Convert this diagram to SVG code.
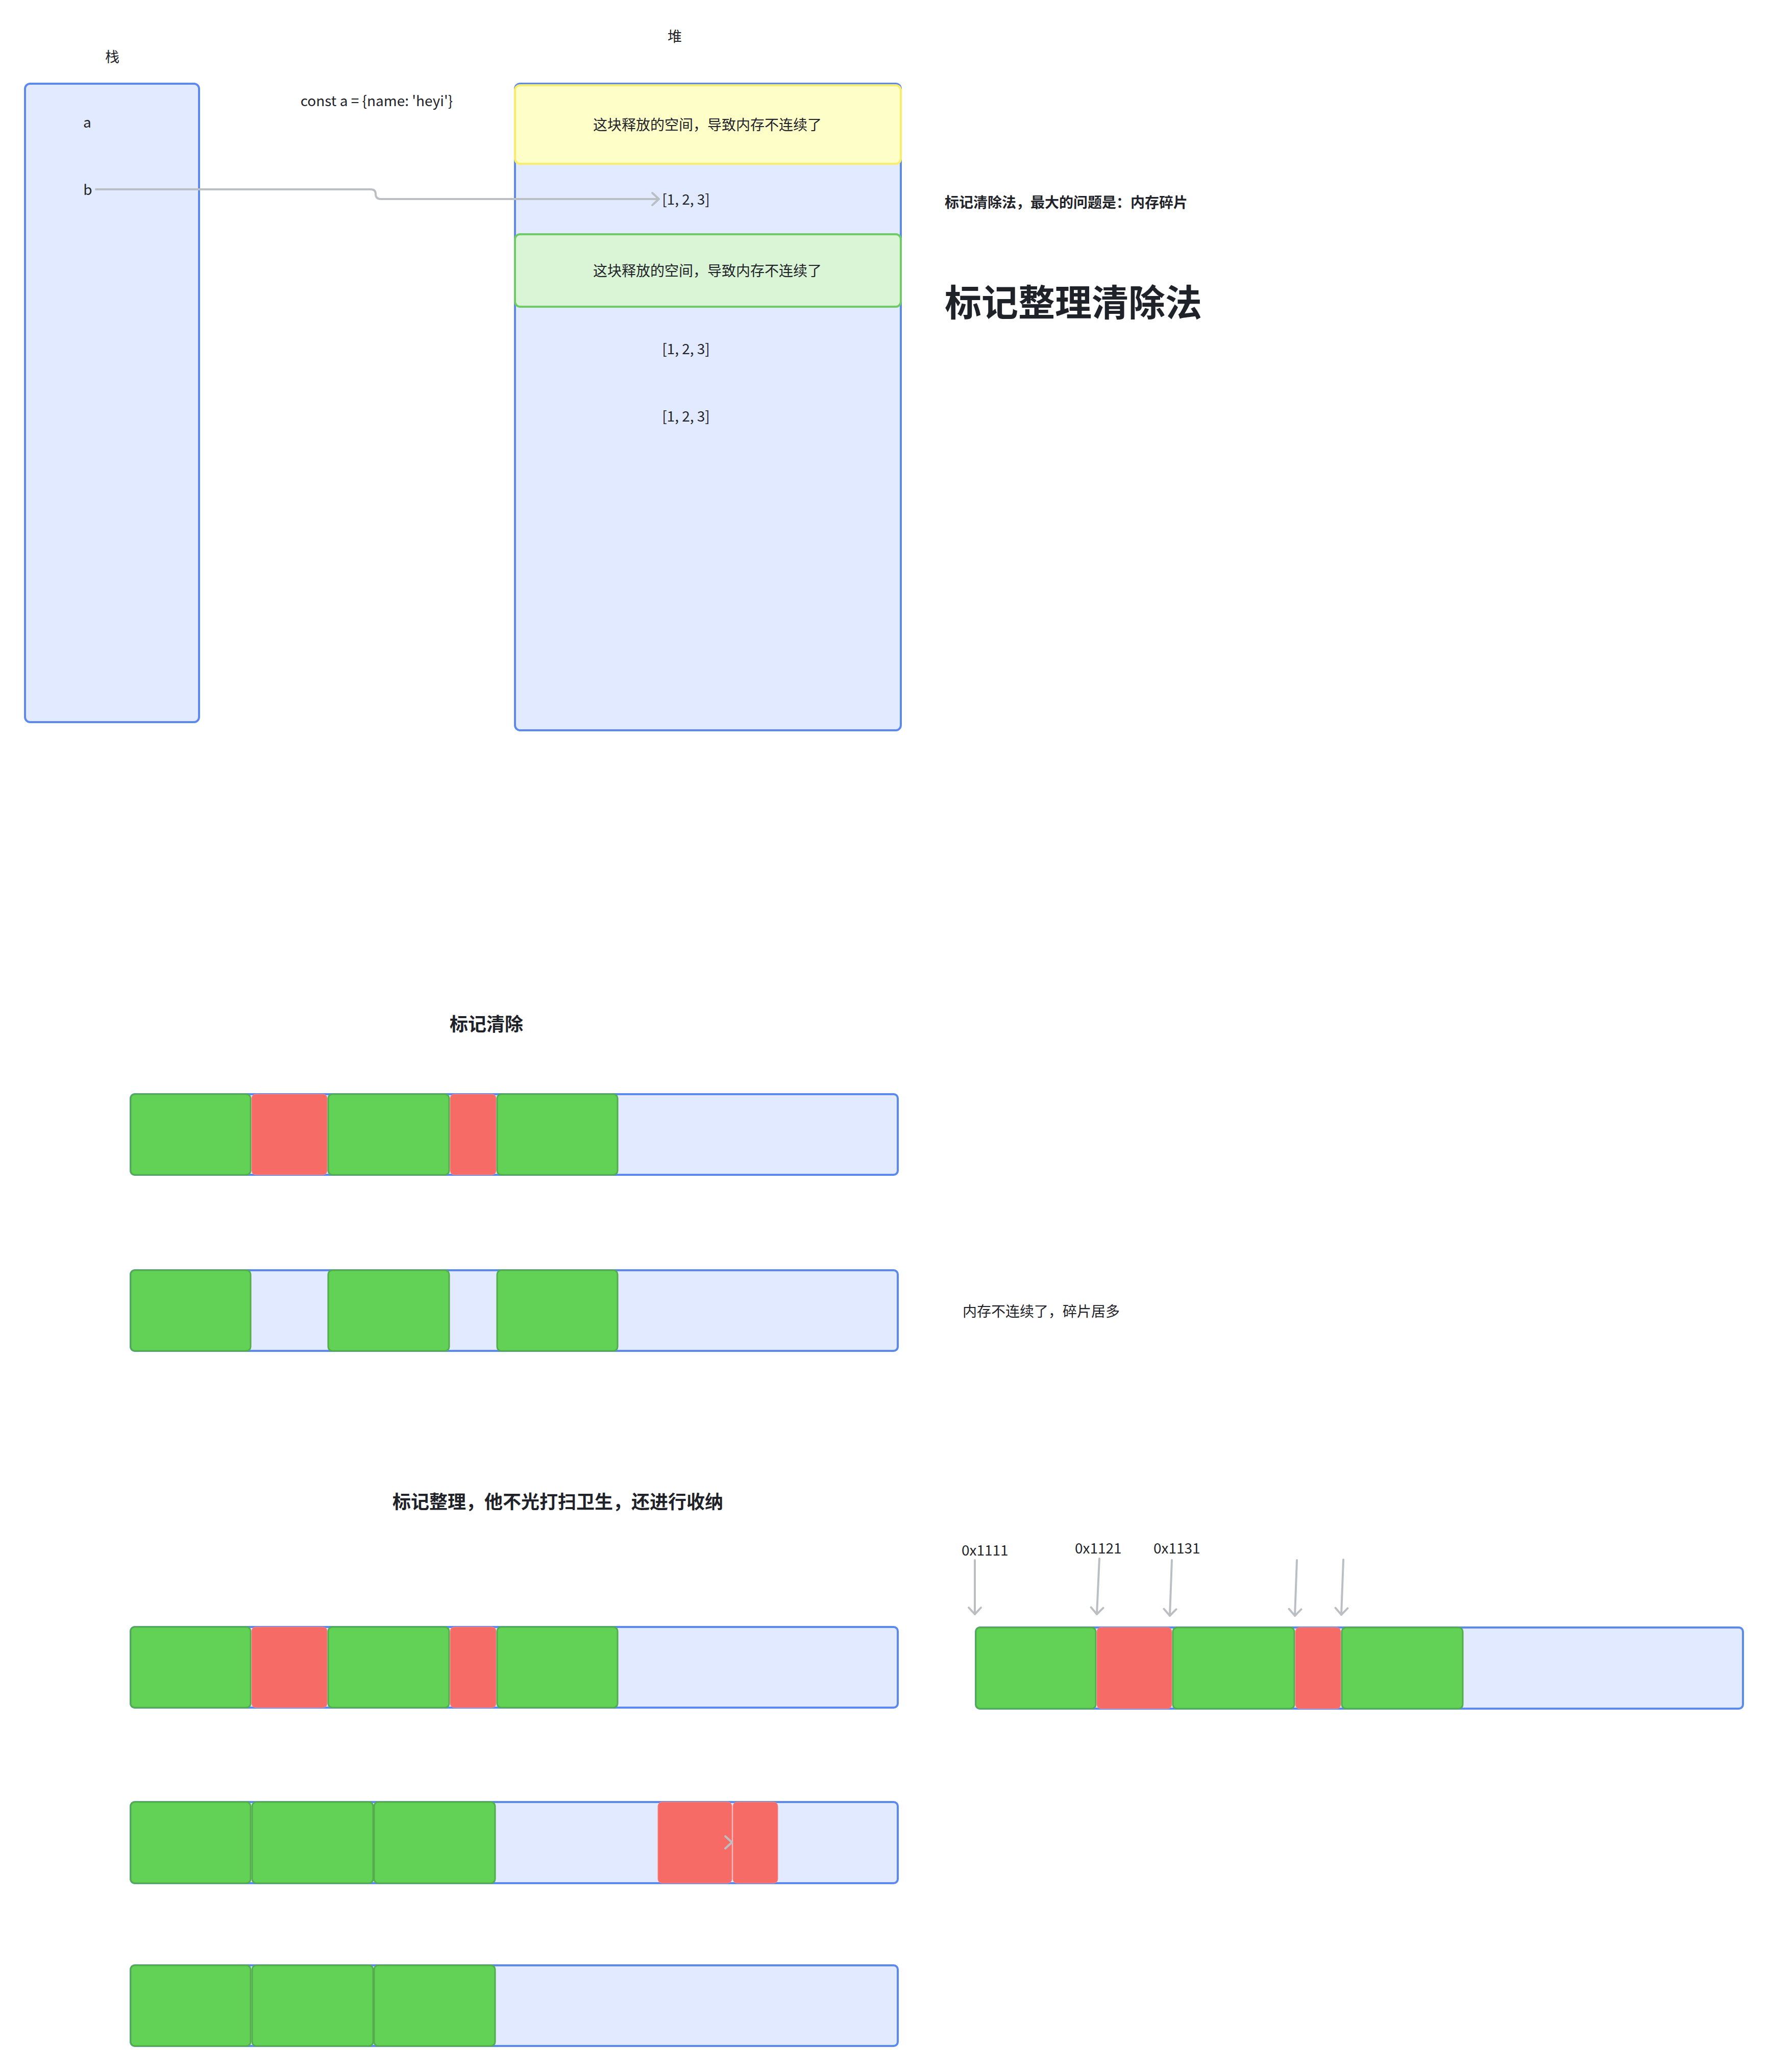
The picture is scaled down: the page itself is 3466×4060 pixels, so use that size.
<svg xmlns="http://www.w3.org/2000/svg" width="3466" height="4060" viewBox="0 0 3466 4060">
<defs>
<style>
.t{font-family:"Noto Sans CJK SC","Noto Sans",sans-serif;fill:#1f2329;font-size:28px}
.c{text-anchor:middle;dominant-baseline:central}
.s{dominant-baseline:central}
.b{font-weight:bold}
.box{fill:#e1eafe;stroke:#5b89f0;stroke-width:4}
.g{fill:#62d256;stroke:#52ad4a;stroke-width:3}
.r{fill:#f76b67;stroke:#f98a86;stroke-width:1}
.y{fill:#fefec9;stroke:#fbed6a;stroke-width:4}
.lg{fill:#d9f5d6;stroke:#6dcc63;stroke-width:4}
.ln{fill:none;stroke:#bbbfc4;stroke-width:4;stroke-linecap:round;stroke-linejoin:round}
</style>
<marker id="ah" markerUnits="userSpaceOnUse" markerWidth="40" markerHeight="40" viewBox="-20 -20 40 40" refX="0" refY="0" orient="auto">
<path d="M-13,-12 L0,0 L-13,12" fill="none" stroke="#bbbfc4" stroke-width="4" stroke-linecap="round" stroke-linejoin="round"/>
</marker>
</defs>
<rect width="3466" height="4060" fill="#ffffff"/>

<g id="stack">
<rect class="box" x="49" y="164" width="341" height="1251" rx="10"/>
<text class="t c" x="220" y="110">栈</text>
<text class="t c" x="171" y="238">a</text>
<text class="t c" x="172" y="370">b</text>
</g>

<g id="code">
<text class="t c" x="738" y="196">const a = {name: 'heyi'}</text>
</g>

<g id="heap">
<rect class="box" x="1009" y="164" width="756" height="1267" rx="10"/>
<text class="t c" x="1322" y="70">堆</text>
</g>
<g id="freed1">
<rect class="y" x="1009" y="167" width="756" height="154" rx="10"/>
<text class="t c" x="1386" y="243">这块释放的空间，导致内存不连续了</text>
</g>
<g id="arr1"><text class="t c" x="1344" y="389">[1, 2, 3]</text></g>
<g id="freed2">
<rect class="lg" x="1009" y="459" width="756" height="142" rx="10"/>
<text class="t c" x="1386" y="529">这块释放的空间，导致内存不连续了</text>
</g>
<g id="arr2"><text class="t c" x="1344" y="682">[1, 2, 3]</text></g>
<g id="arr3"><text class="t c" x="1344" y="814">[1, 2, 3]</text></g>

<g id="note1"><text class="t s b" x="1851" y="395">标记清除法，最大的问题是：内存碎片</text></g>
<g id="title"><text class="t s b" x="1851" y="587" style="font-size:72px">标记整理清除法</text></g>

<g id="sec2title"><text class="t c b" x="953" y="2004" style="font-size:36px">标记清除</text></g>

<g id="bar1">
<rect class="box" x="256" y="2144" width="1503" height="158" rx="8"/>
<rect class="g" x="256" y="2144" width="235" height="158" rx="8"/>
<rect class="r" x="493" y="2144" width="148" height="158" rx="8"/>
<rect class="g" x="643" y="2144" width="237" height="158" rx="8"/>
<rect class="r" x="882" y="2144" width="90" height="158" rx="8"/>
<rect class="g" x="974" y="2144" width="236" height="158" rx="8"/>
</g>

<g id="bar2">
<rect class="box" x="256" y="2489" width="1503" height="158" rx="8"/>
<rect class="g" x="256" y="2489" width="235" height="158" rx="8"/>
<rect class="g" x="643" y="2489" width="237" height="158" rx="8"/>
<rect class="g" x="974" y="2489" width="236" height="158" rx="8"/>
</g>

<g id="note2"><text class="t s" x="1886" y="2568">内存不连续了，碎片居多</text></g>

<g id="sec3title"><text class="t s b" x="769" y="2940" style="font-size:36px">标记整理，他不光打扫卫生，还进行收纳</text></g>

<g id="bar3">
<rect class="box" x="256" y="3188" width="1503" height="158" rx="8"/>
<rect class="g" x="256" y="3188" width="235" height="158" rx="8"/>
<rect class="r" x="493" y="3188" width="148" height="158" rx="8"/>
<rect class="g" x="643" y="3188" width="237" height="158" rx="8"/>
<rect class="r" x="882" y="3188" width="90" height="158" rx="8"/>
<rect class="g" x="974" y="3188" width="236" height="158" rx="8"/>
</g>

<g id="bar4">
<rect class="box" x="256" y="3531" width="1503" height="159" rx="8"/>
<rect class="g" x="256" y="3531" width="235" height="159" rx="8"/>
<rect class="g" x="494" y="3531" width="237" height="159" rx="8"/>
<rect class="g" x="733" y="3531" width="237" height="159" rx="8"/>
<rect class="r" x="1289" y="3531" width="145" height="159" rx="8"/>
<rect class="r" x="1436" y="3531" width="88" height="159" rx="8"/>
</g>

<g id="bar5">
<rect class="box" x="256" y="3851" width="1503" height="158" rx="8"/>
<rect class="g" x="256" y="3851" width="235" height="158" rx="8"/>
<rect class="g" x="494" y="3851" width="237" height="158" rx="8"/>
<rect class="g" x="733" y="3851" width="237" height="158" rx="8"/>
</g>

<g id="bar6">
<rect class="box" x="1912" y="3189" width="1503" height="159" rx="8"/>
<rect class="g" x="1912" y="3189" width="235" height="159" rx="8"/>
<rect class="r" x="2149" y="3189" width="147" height="159" rx="8"/>
<rect class="g" x="2298" y="3189" width="238" height="159" rx="8"/>
<rect class="r" x="2538" y="3189" width="89" height="159" rx="8"/>
<rect class="g" x="2629" y="3189" width="237" height="159" rx="8"/>
</g>

<g id="addr1"><text class="t s" x="1884" y="3036">0x1111</text></g>
<g id="addr2"><text class="t s" x="2106" y="3032">0x1121</text></g>
<g id="addr3"><text class="t s" x="2260" y="3032">0x1131</text></g>

<g id="connectors">
<path class="ln" d="M188,371 L726,371 Q736,371 736,380 Q736,390 746,390 L1291,390" marker-end="url(#ah)"/>
<path class="ln" d="M1910,3057 L1910,3163" marker-end="url(#ah)"/>
<path class="ln" d="M2154,3054 L2149,3163" marker-end="url(#ah)"/>
<path class="ln" d="M2296,3057 L2292,3166" marker-end="url(#ah)"/>
<path class="ln" d="M2541,3057 L2537,3166" marker-end="url(#ah)"/>
<path class="ln" d="M2632,3056 L2628,3164" marker-end="url(#ah)"/>
<path class="ln" d="M1421,3598 L1434,3610 L1421,3622"/>
</g>
</svg>
